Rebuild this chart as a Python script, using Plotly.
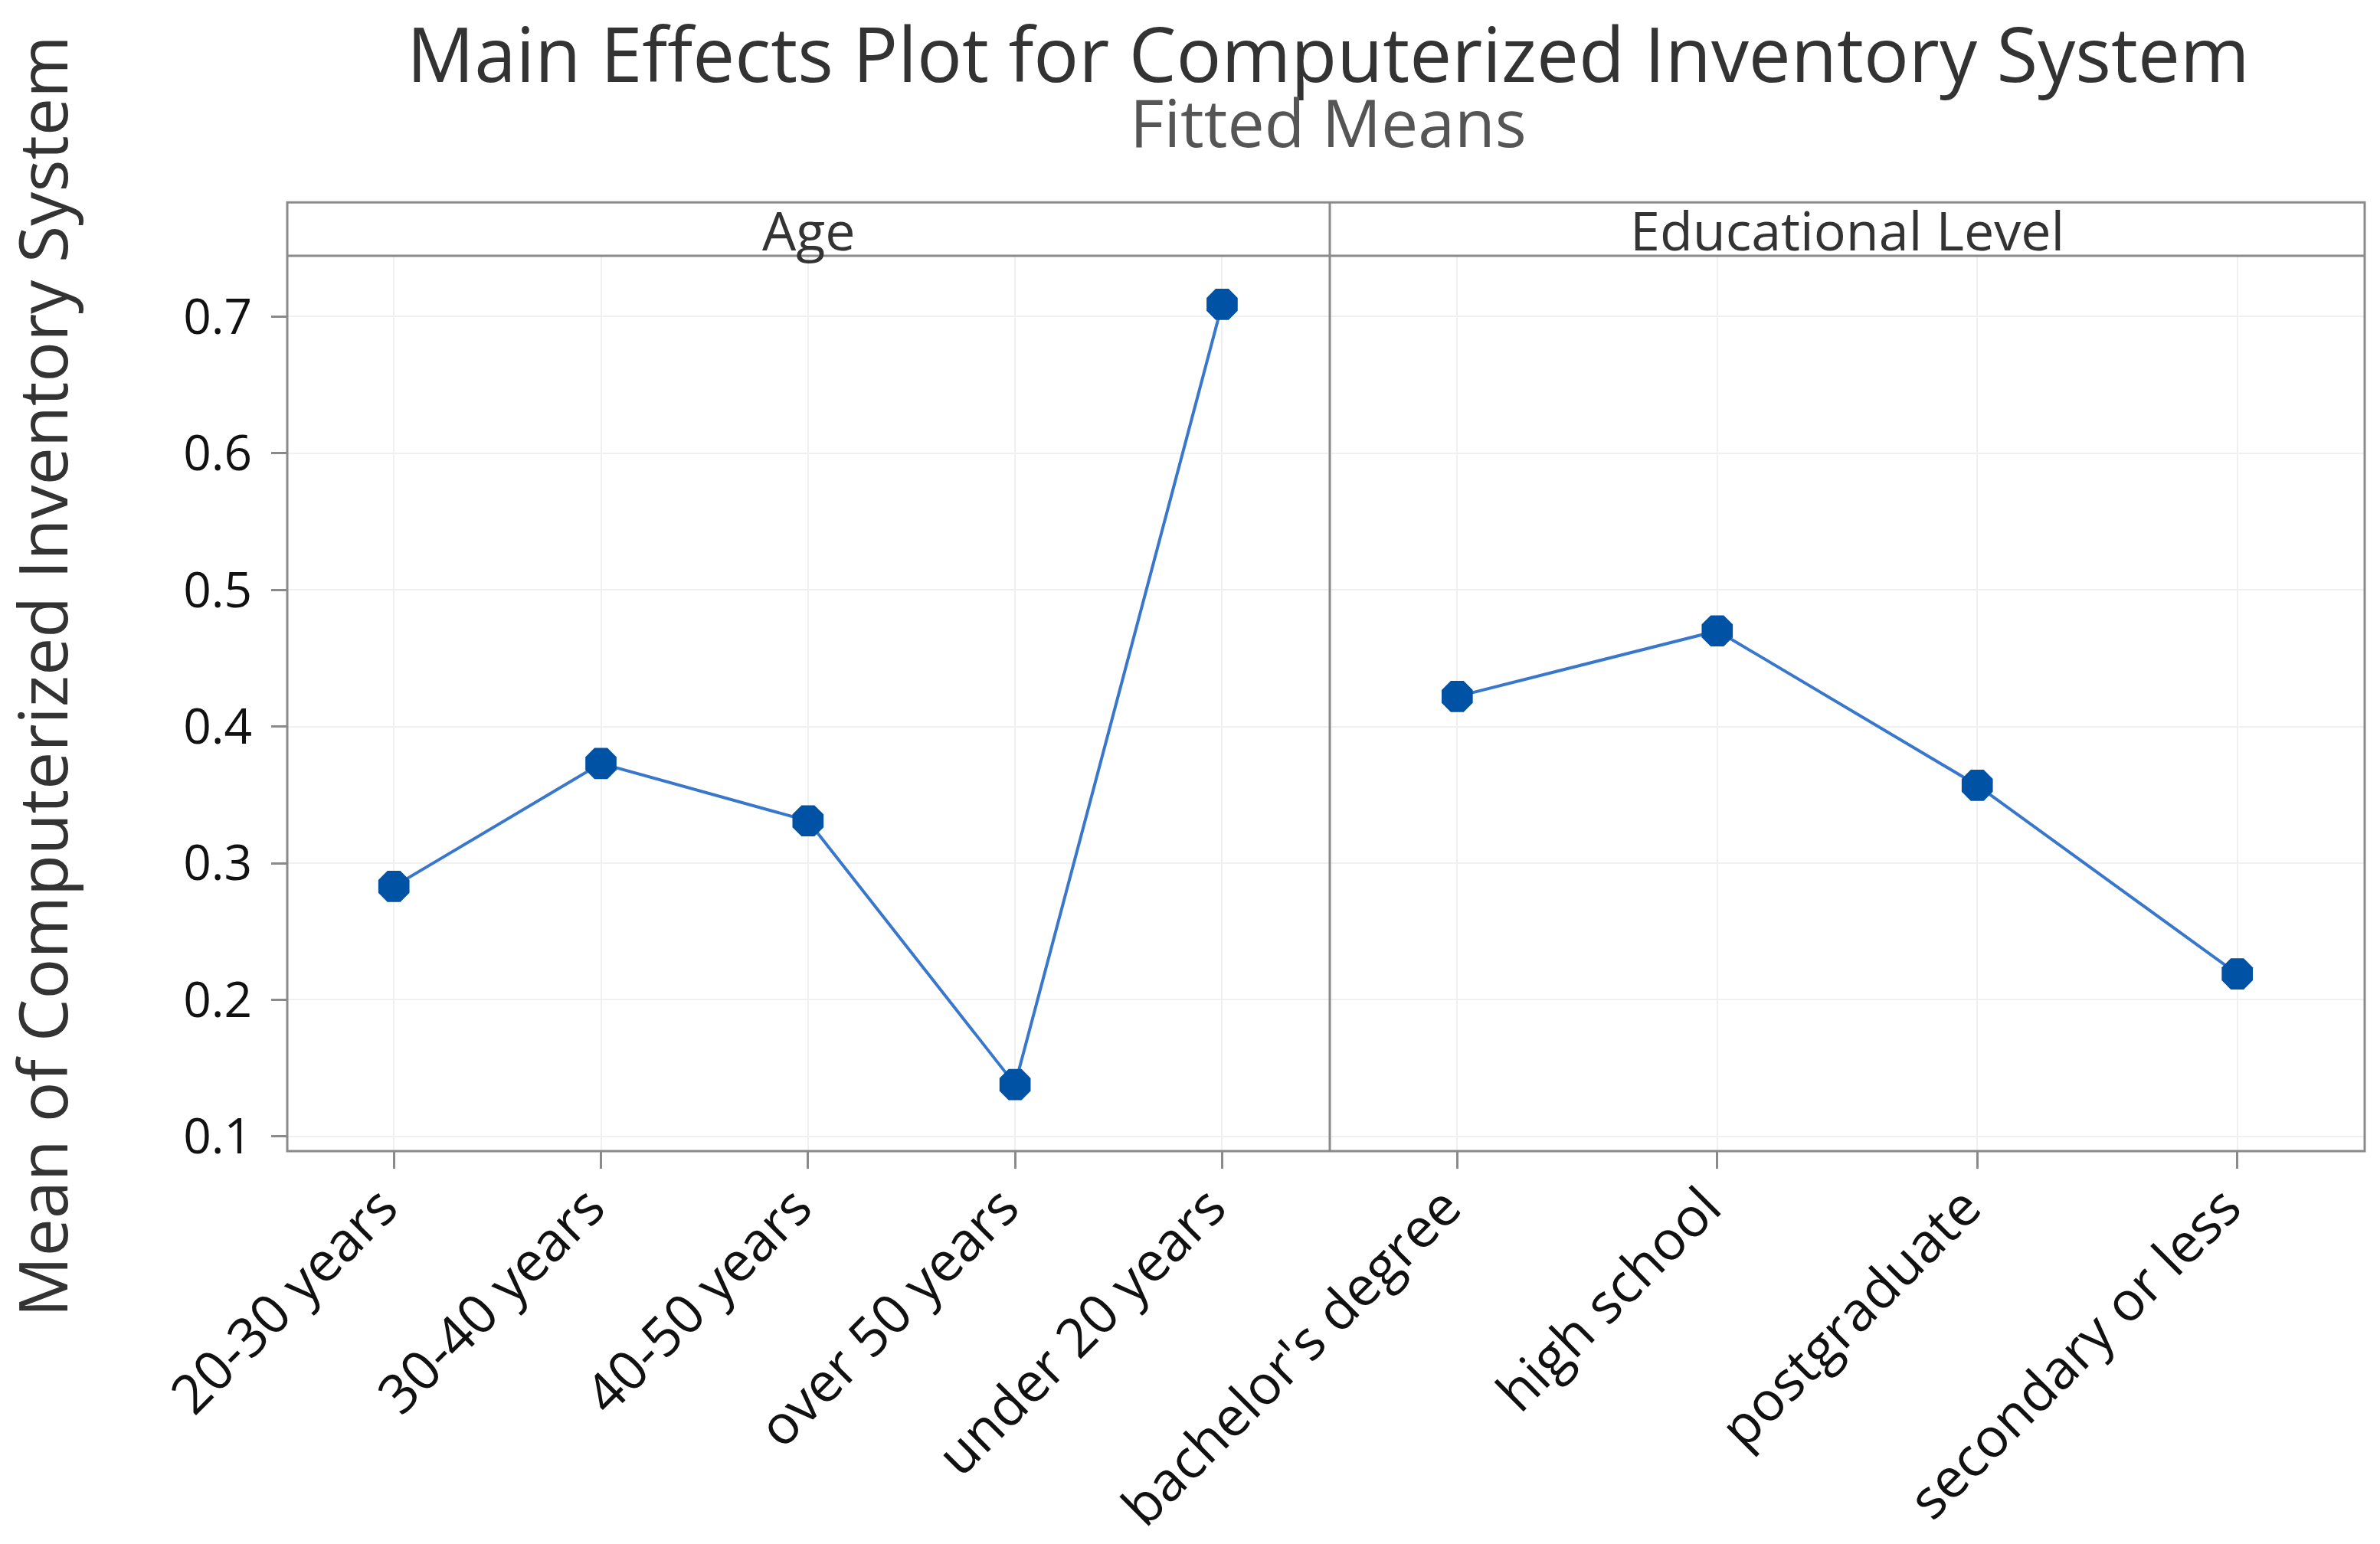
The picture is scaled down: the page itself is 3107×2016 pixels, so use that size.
import plotly.graph_objects as go

# ---- data ----
age_levels = ["20-30 years", "30-40 years", "40-50 years", "over 50 years", "under 20 years"]
age_means = [0.283, 0.373, 0.331, 0.138, 0.709]
edu_levels = ["bachelor's degree", "high school", "postgraduate", "secondary or less"]
edu_means = [0.422, 0.470, 0.357, 0.219]
panel_titles = ["Age", "Educational Level"]
y_ticks = [0.1, 0.2, 0.3, 0.4, 0.5, 0.6, 0.7]

title_text = "Main Effects Plot for Computerized Inventory System"
subtitle_text = "Fitted Means"
ytitle_text = "Mean of Computerized Inventory System"

# ---- geometry (pixels) ----
W, H = 3107, 2016
L, R, T, B = 367, 3079, 326, 1500
strip_top = 256
ph = B - T
pw = R - L
split = (1728 - L) / pw
strip_y = 1 + (T - strip_top) / ph

FONT = "Open Sans"
MARK = "#0052A5"
LINE = "#3877CC"
FRAME = "#8A8A8A"
GRID = "#F0F0F0"

fig = go.Figure()
fig.add_trace(go.Scatter(x=age_levels, y=age_means, xaxis="x", yaxis="y",
                         mode="lines+markers",
                         line=dict(color=LINE, width=4),
                         marker=dict(color=MARK, size=44, symbol="octagon"),
                         showlegend=False))
fig.add_trace(go.Scatter(x=edu_levels, y=edu_means, xaxis="x2", yaxis="y",
                         mode="lines+markers",
                         line=dict(color=LINE, width=4),
                         marker=dict(color=MARK, size=44, symbol="octagon"),
                         showlegend=False))

xcommon = dict(type="category", showgrid=True, gridcolor=GRID, gridwidth=2,
               ticks="outside", ticklen=22, tickwidth=3, tickcolor=FRAME,
               tickangle=-45, tickfont=dict(family=FONT, size=71, color="#111"),
               ticklabelstandoff=-20, ticklabelshift=-16,
               showline=False, zeroline=False, fixedrange=True)

fig.update_layout(
    width=W, height=H,
    margin=dict(l=L, r=W - R, t=T, b=H - B),
    paper_bgcolor="white", plot_bgcolor="white",
    xaxis=dict(domain=[0, split], range=[-0.515, 4.52], **xcommon),
    xaxis2=dict(domain=[split, 1], range=[-0.49, 3.49], anchor="y", **xcommon),
    yaxis=dict(range=[0.0893, 0.7445], tickvals=y_ticks,
               ticktext=[f"{v:.1f}" for v in y_ticks],
               showgrid=True, gridcolor=GRID, gridwidth=2,
               ticks="outside", ticklen=20, tickwidth=3, tickcolor=FRAME,
               tickfont=dict(family=FONT, size=64, color="#111"),
               ticklabelstandoff=12,
               showline=False, zeroline=False),
    shapes=[
        dict(type="rect", xref="paper", yref="paper", x0=0, x1=1, y0=0, y1=strip_y,
             line=dict(color=FRAME, width=3)),
        dict(type="line", xref="paper", yref="paper", x0=0, x1=1, y0=1, y1=1,
             line=dict(color=FRAME, width=3)),
        dict(type="line", xref="paper", yref="paper", x0=split, x1=split, y0=0, y1=strip_y,
             line=dict(color=FRAME, width=3)),
    ],
    annotations=[
        dict(text=title_text, xref="paper", yref="paper", x=(1726 - L) / pw, y=(B - 60) / ph,
             xanchor="center", yanchor="middle", showarrow=False,
             font=dict(family=FONT, size=98, color="#333333")),
        dict(text=subtitle_text, xref="paper", yref="paper", x=(1726 - L) / pw, y=(B - 150) / ph,
             xanchor="center", yanchor="middle", showarrow=False,
             font=dict(family=FONT, size=86, color="#555555")),
        dict(text=panel_titles[0], xref="paper", yref="paper", x=split / 2, y=(B - 292) / ph,
             xanchor="center", yanchor="middle", showarrow=False,
             font=dict(family=FONT, size=70, color="#333333")),
        dict(text=panel_titles[1], xref="paper", yref="paper", x=(split + 1) / 2, y=(B - 292) / ph,
             xanchor="center", yanchor="middle", showarrow=False,
             font=dict(family=FONT, size=70, color="#333333")),
        dict(text=ytitle_text, xref="paper", yref="paper", x=(46 - L) / pw, y=(B - 878) / ph,
             xanchor="center", yanchor="middle", showarrow=False, textangle=-90,
             font=dict(family=FONT, size=88, color="#333333")),
    ],
)

fig.write_html("out.html")
